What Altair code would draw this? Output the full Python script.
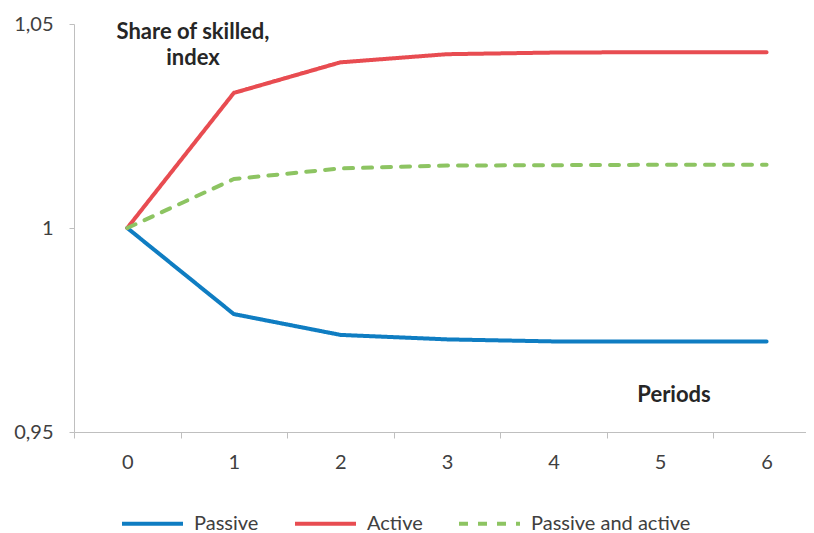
import altair as alt
import pandas as pd

periods = [0, 1, 2, 3, 4, 5, 6]
passive = [1.0, 0.9789, 0.9738, 0.9727, 0.9722, 0.9722, 0.9722]
active = [1.0, 1.0331, 1.0406, 1.0426, 1.0430, 1.0431, 1.0431]
both = [1.0, 1.0120, 1.0146, 1.0153, 1.0154, 1.0155, 1.0155]
series = ["Passive", "Active", "Passive and active"]
colors = ["#0F7DC2", "#E84C51", "#8DC462"]

rows = []
for name, vals in zip(series, [passive, active, both]):
    for p, v in zip(periods, vals):
        rows.append({"period": p, "value": v, "series": name})
df = pd.DataFrame(rows)

FONT = "Lato"
W, H = 732, 408
LBL = 20
x_ticks = [i / 2 for i in range(-1, 13)]

x = alt.X("period:Q",
          scale=alt.Scale(domain=[-0.5, 6.37], zero=False, nice=False),
          axis=alt.Axis(title=None, values=x_ticks, tickSize=6,
                        labelPadding=14, labelFontSize=LBL, labelColor="#404040",
                        labelFont=FONT, domainColor="#BFBFBF", tickColor="#BFBFBF",
                        grid=False, labelFlush=False, labelOverlap=False,
                        tickOpacity={"condition": {"test": "datum.value % 1 === 0", "value": 0}, "value": 1},
                        labelExpr="datum.value % 1 === 0 ? format(datum.value, 'd') : ''"))
y = alt.Y("value:Q", scale=alt.Scale(domain=[0.95, 1.05], zero=False, nice=False),
          axis=alt.Axis(title=None, values=[0.95, 1.0, 1.05], tickSize=5,
                        labelPadding=16, labelFontSize=LBL, labelColor="#404040",
                        labelFont=FONT, domainColor="#BFBFBF", tickColor="#BFBFBF",
                        grid=False,
                        labelExpr="replace(toString(datum.value), '.', ',')"))

leg = dict(title=None, orient="none", direction="horizontal",
           legendX=46, legendY=467, symbolType="stroke",
           symbolSize=3721, symbolStrokeWidth=4,
           labelFontSize=LBL, labelFont=FONT,
           labelColor="#404040", columnPadding=28, labelOffset=9)

lines = alt.Chart(df).mark_line(strokeWidth=4, strokeCap="round", strokeJoin="round").encode(
    x=x, y=y,
    color=alt.Color("series:N", sort=series,
                    scale=alt.Scale(domain=series, range=colors),
                    legend=alt.Legend(**leg)),
    strokeDash=alt.StrokeDash("series:N", sort=series,
                              scale=alt.Scale(domain=series, range=[[1, 0], [1, 0], [9, 10]]),
                              legend=alt.Legend(**leg)),
)

title_txt = alt.Chart(pd.DataFrame({"t": [["Share of skilled,", "index"]]})).mark_text(
    font=FONT, fontSize=22, fontWeight="bold", color="#262626", align="center",
    baseline="middle", lineHeight=26).encode(
    text="t", x=alt.value(119), y=alt.value(8))

periods_txt = alt.Chart(pd.DataFrame({"t": ["Periods"]})).mark_text(
    font=FONT, fontSize=22, fontWeight="bold", color="#262626", align="center",
    baseline="middle").encode(text="t", x=alt.value(600), y=alt.value(371))

chart = alt.layer(lines, title_txt, periods_txt).properties(
    width=W, height=H,
    autosize=alt.AutoSizeParams(type="none"),
    padding={"left": 66, "top": 16, "right": 0, "bottom": 104},
).configure(background="white").configure_view(stroke=None)

chart.save("out.html", embed_options={"renderer": "svg", "actions": False})
